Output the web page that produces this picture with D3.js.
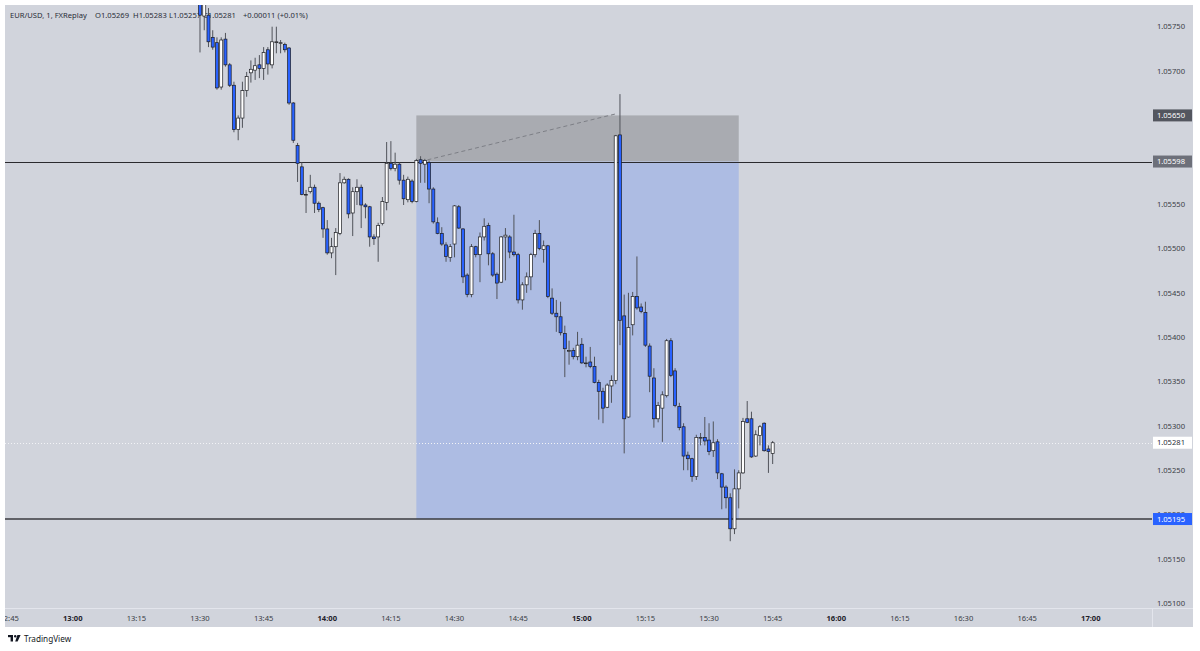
<!DOCTYPE html>
<html><head><meta charset="utf-8">
<script src="https://cdn.jsdelivr.net/npm/d3@7"></script>
<style>
body{margin:0;background:#fff}
svg{display:block}
text{font-family:"Noto Sans","Open Sans",sans-serif}
</style>
</head><body>
<svg id="chart" width="1200" height="651"></svg>
<script>
// ---------- DATA ----------
const firstCandleTime = "13:30";   // 1-minute candles
const open = [
1.05778,1.05762,1.05763,1.05738,1.05732,1.05682,1.05736,1.05707,1.05684,1.05634,
1.05647,1.05678,1.05698,1.05701,1.05707,1.05703,1.05724,1.05707,1.05732,1.05732,
1.05730,1.05726,1.05664,1.05616,1.05592,1.05561,1.05564,1.05569,1.05551,1.05546,
1.05522,1.05495,1.05502,1.05517,1.05574,1.05578,1.05540,1.05564,1.05569,1.05549,
1.05547,1.05513,1.05513,1.05528,1.05552,1.05596,1.05590,1.05595,1.05577,1.05555,
1.05576,1.05553,1.05600,1.05595,1.05597,1.05567,1.05529,1.05517,1.05504,1.05490,
1.05505,1.05547,1.05522,1.05470,1.05448,1.05502,1.05493,1.05513,1.05526,1.05494,
1.05471,1.05462,1.05513,1.05513,1.05496,1.05493,1.05442,1.05459,1.05468,1.05493,
1.05517,1.05499,1.05503,1.05444,1.05427,1.05423,1.05404,1.05385,1.05385,1.05378,
1.05392,1.05371,1.05372,1.05367,1.05349,1.05339,1.05321,1.05345,1.05351,1.05628,
1.05424,1.05310,1.05414,1.05446,1.05434,1.05428,1.05390,1.05354,1.05308,1.05320,
1.05334,1.05396,1.05362,1.05322,1.05299,1.05267,1.05263,1.05243,1.05287,1.05287,
1.05284,1.05272,1.05282,1.05246,1.05231,1.05219,1.05184,1.05229,1.05247,1.05308,
1.05308,1.05266,1.05289,1.05303,1.05274,1.05269];
const high = [
1.05786,1.05780,1.05771,1.05746,1.05738,1.05738,1.05743,1.05709,1.05688,1.05650,
1.05688,1.05699,1.05712,1.05715,1.05718,1.05727,1.05727,1.05750,1.05750,1.05735,
1.05732,1.05727,1.05665,1.05619,1.05597,1.05566,1.05583,1.05572,1.05553,1.05547,
1.05532,1.05512,1.05523,1.05585,1.05581,1.05579,1.05569,1.05578,1.05572,1.05551,
1.05548,1.05516,1.05529,1.05558,1.05620,1.05621,1.05608,1.05597,1.05583,1.05581,
1.05578,1.05601,1.05604,1.05601,1.05599,1.05569,1.05535,1.05524,1.05507,1.05505,
1.05549,1.05549,1.05523,1.05472,1.05505,1.05503,1.05518,1.05534,1.05529,1.05496,
1.05473,1.05514,1.05523,1.05515,1.05538,1.05495,1.05462,1.05473,1.05495,1.05521,
1.05532,1.05509,1.05504,1.05455,1.05442,1.05440,1.05413,1.05396,1.05388,1.05406,
1.05399,1.05378,1.05389,1.05378,1.05352,1.05343,1.05348,1.05357,1.05628,1.05674,
1.05448,1.05450,1.05451,1.05491,1.05438,1.05440,1.05393,1.05365,1.05327,1.05339,
1.05398,1.05399,1.05365,1.05326,1.05303,1.05271,1.05264,1.05290,1.05292,1.05310,
1.05303,1.05305,1.05285,1.05247,1.05233,1.05224,1.05251,1.05250,1.05309,1.05328,
1.05316,1.05295,1.05301,1.05304,1.05278,1.05283];
const low = [
1.05721,1.05746,1.05727,1.05724,1.05679,1.05679,1.05705,1.05682,1.05631,1.05622,
1.05636,1.05671,1.05687,1.05690,1.05692,1.05690,1.05696,1.05703,1.05720,1.05720,
1.05721,1.05662,1.05619,1.05575,1.05560,1.05540,1.05562,1.05540,1.05541,1.05512,
1.05493,1.05489,1.05470,1.05515,1.05573,1.05534,1.05514,1.05549,1.05523,1.05534,
1.05502,1.05504,1.05485,1.05526,1.05543,1.05588,1.05587,1.05572,1.05549,1.05552,
1.05551,1.05552,1.05574,1.05574,1.05551,1.05528,1.05516,1.05503,1.05485,1.05485,
1.05490,1.05522,1.05461,1.05445,1.05445,1.05490,1.05462,1.05509,1.05481,1.05468,
1.05443,1.05461,1.05464,1.05489,1.05491,1.05438,1.05431,1.05450,1.05453,1.05490,
1.05498,1.05484,1.05444,1.05425,1.05406,1.05402,1.05355,1.05369,1.05375,1.05374,
1.05370,1.05366,1.05365,1.05348,1.05307,1.05303,1.05320,1.05326,1.05347,1.05391,
1.05269,1.05309,1.05402,1.05431,1.05427,1.05389,1.05338,1.05298,1.05304,1.05282,
1.05332,1.05355,1.05321,1.05295,1.05250,1.05250,1.05237,1.05239,1.05278,1.05278,
1.05267,1.05265,1.05240,1.05206,1.05207,1.05170,1.05178,1.05207,1.05246,1.05303,
1.05264,1.05265,1.05278,1.05271,1.05247,1.05257];
const close = [
1.05763,1.05776,1.05733,1.05727,1.05681,1.05735,1.05707,1.05684,1.05634,1.05647,
1.05678,1.05694,1.05702,1.05706,1.05703,1.05721,1.05708,1.05733,1.05733,1.05732,
1.05724,1.05664,1.05622,1.05596,1.05561,1.05561,1.05569,1.05551,1.05544,1.05522,
1.05495,1.05502,1.05518,1.05574,1.05578,1.05539,1.05564,1.05569,1.05549,1.05547,
1.05513,1.05511,1.05526,1.05553,1.05596,1.05590,1.05595,1.05577,1.05556,1.05578,
1.05553,1.05599,1.05596,1.05599,1.05567,1.05530,1.05517,1.05505,1.05491,1.05502,
1.05548,1.05523,1.05468,1.05448,1.05502,1.05493,1.05513,1.05525,1.05494,1.05470,
1.05461,1.05513,1.05515,1.05496,1.05493,1.05442,1.05459,1.05468,1.05493,1.05517,
1.05500,1.05503,1.05446,1.05427,1.05423,1.05405,1.05387,1.05385,1.05378,1.05391,
1.05371,1.05371,1.05367,1.05349,1.05339,1.05320,1.05346,1.05351,1.05627,1.05419,
1.05308,1.05411,1.05446,1.05433,1.05429,1.05391,1.05356,1.05308,1.05323,1.05335,
1.05396,1.05357,1.05323,1.05298,1.05266,1.05263,1.05243,1.05287,1.05287,1.05283,
1.05271,1.05281,1.05247,1.05231,1.05219,1.05184,1.05229,1.05247,1.05305,1.05304,
1.05265,1.05290,1.05299,1.05272,1.05271,1.05281];

const priceTicks = [1.05100,1.05150,1.05200,1.05250,1.05300,1.05350,1.05400,1.05450,1.05500,1.05550,1.05600,1.05650,1.05700,1.05750];
const timeTicks = ["12:45","13:00","13:15","13:30","13:45","14:00","14:15","14:30","14:45","15:00","15:15","15:30","15:45","16:00","16:15","16:30","16:45","17:00"];

const entryPrice = 1.05598, stopPrice = 1.05650, targetPrice = 1.05195, lastPrice = 1.05281;
const positionStart = "14:21", positionEnd = "15:37";
const dashFrom = "14:22", dashTo = "15:08";
const headerParts = [
  {t:"EUR/USD, 1, FXReplay"}, {t:"O1.05269"}, {t:"H1.05283"}, {t:"L1.05257"}, {t:"C1.05281"}, {t:"+0.00011 (+0.01%)"}
];

// ---------- LAYOUT ----------
const W = 1200, H = 651;
const plot = {l:5, t:5, r:1152, b:608};
const axisRight = 1193, axisBottom = 627;
const bg = "#d1d4dc";

const parseT = d3.timeParse("%H:%M");
const t0 = parseT(firstCandleTime);
const pxPerMin = 4.242;
const minMs = 60000;
const x = d3.scaleTime()
  .domain([new Date(t0.getTime() - (200 - plot.l)/pxPerMin*minMs), new Date(t0.getTime() + (plot.r - 200)/pxPerMin*minMs)])
  .range([plot.l, plot.r]);
const y = d3.scaleLinear().domain([1.05100, 1.05750]).range([603.3, 26.7]);

const candles = open.map((o,i)=>({t:d3.timeMinute.offset(t0,i), o, h:high[i], l:low[i], c:close[i]}));

const svg = d3.select("#chart");
svg.append("rect").attr("width",W).attr("height",H).attr("fill","#fff");
// panes
svg.append("rect").attr("x",plot.l).attr("y",plot.t).attr("width",axisRight-plot.l).attr("height",axisBottom-plot.t).attr("fill",bg);

const defs = svg.append("defs");
defs.append("clipPath").attr("id","clip").append("rect")
  .attr("x",plot.l).attr("y",plot.t).attr("width",plot.r-plot.l).attr("height",plot.b-plot.t);

// separators
svg.append("line").attr("x1",plot.l).attr("x2",axisRight).attr("y1",plot.b+0.5).attr("y2",plot.b+0.5).attr("stroke","#e3e5ec").attr("stroke-width",1);
svg.append("line").attr("x1",plot.r+0.5).attr("x2",plot.r+0.5).attr("y1",plot.b).attr("y2",axisBottom).attr("stroke","#e3e5ec").attr("stroke-width",1);

const g = svg.append("g").attr("clip-path","url(#clip)");

// header text (under candles)
const hx = [10, 95, 133, 169, 203, 243];
g.selectAll("text.hdr").data(headerParts).join("text").attr("class","hdr")
  .attr("x",(d,i)=>hx[i]).attr("y",18).attr("font-size",7.6).attr("fill","#2a2e39").text(d=>d.t);

// position tool zones
const px0 = x(parseT(positionStart)), px1 = x(parseT(positionEnd));
g.append("rect").attr("x",px0).attr("y",y(stopPrice)).attr("width",px1-px0).attr("height",y(entryPrice)-y(stopPrice))
  .attr("fill","#a9abb1");
g.append("rect").attr("x",px0).attr("y",y(entryPrice)).attr("width",px1-px0).attr("height",y(targetPrice)-y(entryPrice))
  .attr("fill","#adbce3");

// dashed connector
g.append("line").attr("x1",x(parseT(dashFrom))).attr("y1",y(entryPrice)).attr("x2",x(parseT(dashTo))+2).attr("y2",y(stopPrice)-2)
  .attr("stroke","#7d7f86").attr("stroke-width",1).attr("stroke-dasharray","4,3");

// horizontal lines
g.append("line").attr("x1",plot.l).attr("x2",plot.r).attr("y1",Math.round(y(entryPrice))+0.5).attr("y2",Math.round(y(entryPrice))+0.5)
  .attr("stroke","#2a2a2e").attr("stroke-width",1);
g.append("line").attr("x1",plot.l).attr("x2",plot.r).attr("y1",y(targetPrice)).attr("y2",y(targetPrice))
  .attr("stroke","#3a3b40").attr("stroke-width",1.6);
g.append("line").attr("x1",plot.l).attr("x2",plot.r).attr("y1",Math.round(y(lastPrice))+0.5).attr("y2",Math.round(y(lastPrice))+0.5)
  .attr("stroke","#f2f3f6").attr("stroke-width",1).attr("stroke-dasharray","1,2");

// candles
const cg = g.append("g");
cg.selectAll("line.wick").data(candles).join("line").attr("class","wick")
  .attr("x1",d=>x(d.t)).attr("x2",d=>x(d.t)).attr("y1",d=>y(d.h)).attr("y2",d=>y(d.l))
  .attr("stroke","#50535a").attr("stroke-width",1);
cg.selectAll("rect.body").data(candles).join("rect").attr("class","body")
  .attr("x",d=>x(d.t)-1.5).attr("width",3)
  .attr("y",d=>y(Math.max(d.o,d.c)))
  .attr("height",d=>Math.max(y(Math.min(d.o,d.c))-y(Math.max(d.o,d.c)),0.8))
  .attr("fill",d=>d.c>=d.o?"#ffffff":"#2962ff")
  .attr("stroke","#1c1d22").attr("stroke-width",0.7);

// price axis labels
svg.selectAll("text.pt").data(priceTicks).join("text").attr("class","pt")
  .attr("x",1185).attr("y",d=>y(d)+2.7).attr("text-anchor","end").attr("font-size",7.6).attr("fill","#3b3e46")
  .text(d=>d.toFixed(5));

// price boxes
const boxes = [
  {p:stopPrice, fill:"#53565f", color:"#ffffff"},
  {p:entryPrice, fill:"#6d707a", color:"#ffffff"},
  {p:lastPrice, fill:"#ffffff", color:"#2a2e39"},
  {p:targetPrice, fill:"#2962ff", color:"#ffffff"}
];
const bx = svg.selectAll("g.box").data(boxes).join("g").attr("class","box");
bx.append("rect").attr("x",plot.r+1).attr("y",d=>y(d.p)-6).attr("width",39).attr("height",12).attr("fill",d=>d.fill);
bx.append("text").attr("x",1185).attr("y",d=>y(d.p)+2.7).attr("text-anchor","end").attr("font-size",7.6)
  .attr("fill",d=>d.color).text(d=>d.p.toFixed(5));

// time axis labels
const tg = svg.append("g");
defs.append("clipPath").attr("id","tclip").append("rect").attr("x",plot.l).attr("y",plot.b).attr("width",plot.r-plot.l).attr("height",axisBottom-plot.b);
tg.attr("clip-path","url(#tclip)");
tg.selectAll("text").data(timeTicks).join("text")
  .attr("x",d=>x(parseT(d))).attr("y",621).attr("text-anchor","middle").attr("font-size",7.6)
  .attr("font-weight",d=>d.endsWith(":00")?"bold":"normal")
  .attr("fill",d=>d.endsWith(":00")?"#1f222a":"#3b3e46").text(d=>d);

// TradingView footer
const logo = svg.append("g").attr("transform","translate(8,635)").attr("fill","#131722");
logo.append("rect").attr("x",0).attr("y",0).attr("width",5).attr("height",2.2);
logo.append("rect").attr("x",2.6).attr("y",0).attr("width",2.4).attr("height",6.5);
logo.append("circle").attr("cx",7.2).attr("cy",1.2).attr("r",1.2);
logo.append("path").attr("d","M9.4,0 L12.6,0 L9.6,6.5 L7.2,6.5 Z");
svg.append("text").attr("x",24).attr("y",642).attr("font-size",8.2).attr("fill","#131722").text("TradingView");
</script>
</body></html>
